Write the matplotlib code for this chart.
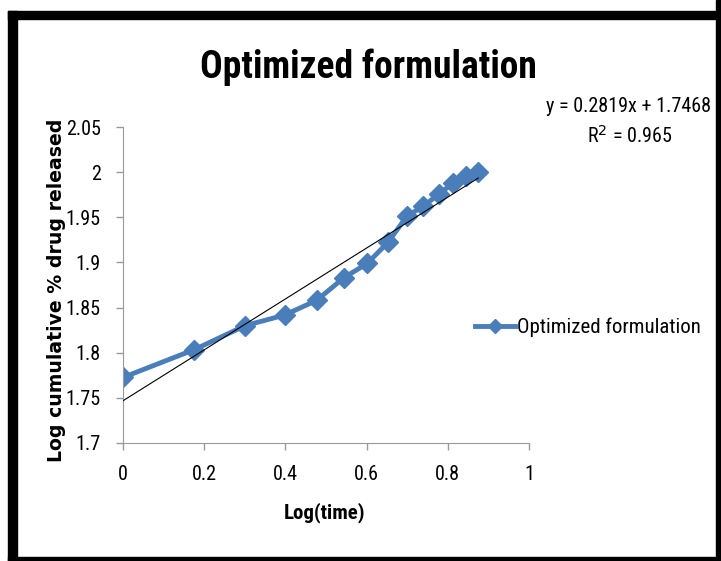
import matplotlib.pyplot as plt
from matplotlib.patches import Rectangle

# log(time) and log cumulative % drug released
log_time = [0.0, 0.176, 0.301, 0.398, 0.477, 0.544, 0.602, 0.653, 0.699, 0.740, 0.778, 0.813, 0.845, 0.875]
log_release = [1.7726, 1.8035, 1.830, 1.8417, 1.858, 1.883, 1.899, 1.9225, 1.951, 1.9625, 1.9756, 1.988, 1.9953, 2.0]

# linear trendline as printed on the chart
slope = 0.2819
intercept = 1.7468
r_squared = 0.965

x_ticks = [0, 0.2, 0.4, 0.6, 0.8, 1]
y_ticks = [1.7, 1.75, 1.8, 1.85, 1.9, 1.95, 2.0, 2.05]
y_tick_labels = ['1.7', '1.75', '1.8', '1.85', '1.9', '1.95', '2', '2.05']

# narrow font, close to the squeezed Calibri of the original
narrow = ['Liberation Sans Narrow', 'Roboto Condensed', 'Open Sans Condensed', 'DejaVu Sans']
nfont = dict(family=narrow, stretch='condensed')
blue = '#4a7ebb'

fig = plt.figure(figsize=(7.21, 5.61), dpi=100)
ax = fig.add_axes([123 / 721, 1 - 443 / 561, 406 / 721, 316 / 561])

trend_x = [log_time[0], log_time[-1]]
trend_y = [slope * v + intercept for v in trend_x]
ax.plot(log_time, log_release, color=blue, linewidth=3.5, marker='D', markersize=10,
        markerfacecolor=blue, markeredgecolor=blue, label='Optimized formulation', zorder=2)
ax.plot(trend_x, trend_y, color='black', linewidth=0.8, zorder=3)

ax.set_xlim(0, 1)
ax.set_ylim(1.7, 2.05)
ax.set_xticks(x_ticks)
ax.set_xticklabels([f'{v:g}' for v in x_ticks], fontsize=14.5, **nfont)
ax.set_yticks(y_ticks)
ax.set_yticklabels(y_tick_labels, fontsize=14.5, **nfont)
ax.tick_params(axis='x', color='#999999', length=5, width=1, direction='out', pad=11)
ax.tick_params(axis='y', color='#999999', length=5, width=1, direction='out', pad=11)
for side in ['top', 'right']:
    ax.spines[side].set_visible(False)
for side in ['left', 'bottom']:
    ax.spines[side].set_color('#999999')

fig.text(325 / 721, 1 - 513 / 561, 'Log(time)', fontsize=15, fontweight='bold',
         ha='center', va='center', **nfont)
fig.text(57 / 721, 1 - 290 / 561, 'Log cumulative % drug released', family='DejaVu Sans',
         fontsize=13.6, fontweight='bold', rotation=90, ha='center', va='center')

fig.text(368 / 721, 1 - 67 / 561, 'Optimized formulation', fontsize=27,
         fontweight='bold', ha='center', va='center', **nfont)
fig.text(711 / 721, 1 - 106 / 561, f'y = {slope}x + {intercept}',
         fontsize=14.5, ha='right', va='center', **nfont)
fig.text(630 / 721, 1 - 136 / 561, f'R$^2$ = {r_squared}',
         fontsize=14.5, ha='center', va='center', **nfont)

ax.legend(loc='center left', bbox_to_anchor=(352 / 406, 0.365), frameon=False,
          prop=dict(size=15, **nfont), handlelength=1.9, handletextpad=0.1,
          markerscale=0.75, borderpad=0, borderaxespad=0)

# black frame round the picture
frame = [(8, 0, 9, 550), (8, 542, 713, 8), (716, 0, 5, 561), (8, 0, 713, 4)]
for x0, y0, w, h in frame:
    fig.patches.append(Rectangle((x0 / 721, y0 / 561), w / 721, h / 561,
                                 transform=fig.transFigure, color='black', zorder=0))

fig.savefig('out.png', dpi=100)
